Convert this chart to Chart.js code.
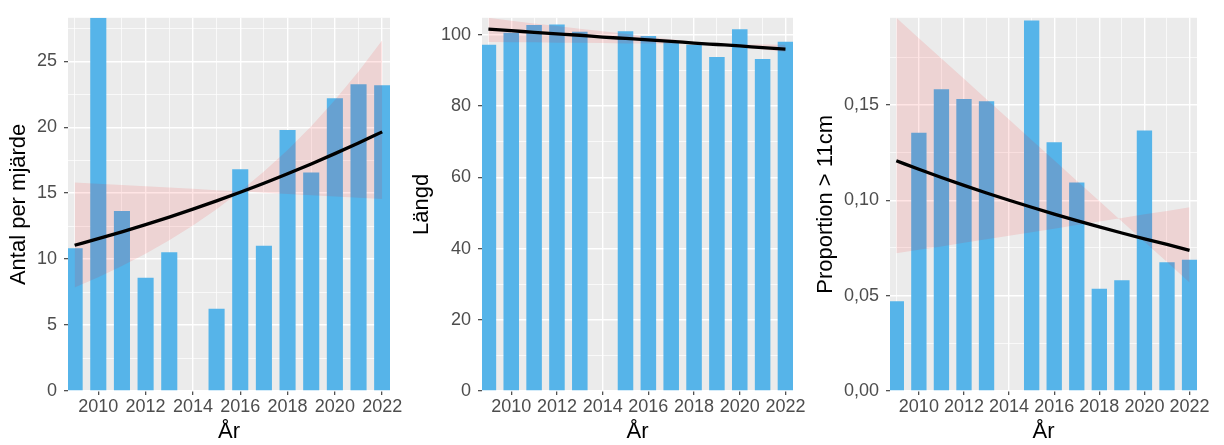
<!DOCTYPE html>
<html lang="sv">
<head>
<meta charset="utf-8">
<title>Mjärdfiske 2009–2022</title>
<script src="https://cdn.jsdelivr.net/npm/chart.js@4.4.1/dist/chart.umd.min.js"></script>
<style>
    html, body { margin: 0; padding: 0; background: #ffffff; }
    #wrap { position: relative; width: 1224px; height: 445px; overflow: hidden; }
    canvas { position: absolute; top: 0; }
</style>
</head>
<body>
<div id="wrap">
    <canvas id="antalChart" width="406" height="445" style="left:0px"></canvas>
    <canvas id="langdChart" width="406" height="445" style="left:406px"></canvas>
    <canvas id="propChart" width="412" height="445" style="left:812px"></canvas>
</div>

<script>
// ==============================================
// DATA
// ==============================================

const YEARS = [2009, 2010, 2011, 2012, 2013, 2014, 2015, 2016, 2017, 2018, 2019, 2020, 2021, 2022];
const X_TICK_YEARS = [2010, 2012, 2014, 2016, 2018, 2020, 2022];

// Antal per mjärde (2014 saknas)
const antalBars  = [10.82, 28.3, 13.65, 8.58, 10.52, null, 6.23, 16.82, 11.02, 19.8, 16.57, 22.2, 23.27, 23.19];
const antalTrend = [11.05, 11.55, 12.07, 12.62, 13.19, 13.79, 14.42, 15.07, 15.75, 16.47, 17.22, 18.0, 18.81, 19.65];
const antalBandA = [15.81, 15.71, 15.62, 15.52, 15.43, 15.33, 15.23, 15.14, 15.04, 14.94, 14.85, 14.75, 14.66, 14.56];
const antalBandB = [7.85, 8.62, 9.47, 10.4, 11.43, 12.55, 13.79, 15.15, 16.64, 18.28, 20.08, 22.06, 24.23, 26.6];
const antalTicks = [0, 5, 10, 15, 20, 25];

// Längd
const langdBars  = [97.2, 100.6, 102.8, 102.9, 100.9, null, 101.0, 99.7, 97.9, 97.2, 93.8, 101.6, 93.2, 98.1];
const langdTrend = [101.6, 101.2, 100.7, 100.3, 99.9, 99.4, 99.0, 98.6, 98.2, 97.7, 97.3, 96.9, 96.4, 96.0];
const langdBandA = [104.8, 104.0, 103.2, 102.5, 101.7, 101.0, 100.3, 99.5, 98.8, 98.1, 97.4, 96.6, 95.9, 95.2];
const langdBandB = [98.0, 97.9, 97.9, 97.8, 97.8, 97.7, 97.6, 97.6, 97.5, 97.5, 97.4, 97.3, 97.3, 97.2];
const langdTicks = [0, 20, 40, 60, 80, 100];

// Proportion > 11cm
const propBars  = [0.047, 0.1354, 0.1582, 0.1531, 0.1519, null, 0.1942, 0.1304, 0.1093, 0.0536, 0.0581, 0.1365, 0.0675, 0.0688];
const propTrend = [0.1207, 0.1162, 0.1119, 0.1078, 0.1038, 0.1, 0.0963, 0.0927, 0.0893, 0.086, 0.0828, 0.0797, 0.0768, 0.0737];
const propBandA = [0.1956, 0.1849, 0.1743, 0.1636, 0.1529, 0.1423, 0.1316, 0.1209, 0.1102, 0.0996, 0.0889, 0.0782, 0.0676, 0.0569];
const propBandB = [0.0722, 0.074, 0.0758, 0.0777, 0.0795, 0.0814, 0.0832, 0.0851, 0.087, 0.0888, 0.0907, 0.0926, 0.0944, 0.0963];
const propTicks = [0, 0.05, 0.1, 0.15];

// ==============================================
// STIL
// ==============================================

const FONT = '"Liberation Sans", Arial, sans-serif';
const BAR_COLOR = '#56B4E9';
const BAND_COLOR = 'rgba(255, 0, 0, 0.1)';
const PANEL_BG = '#EBEBEB';
const X_MIN = 2008.72;
const X_MAX = 2022.33;

// grå panelbakgrund bakom rutnätet
const panelBackground = {
    id: 'panelBackground',
    beforeDraw(chart) {
        const { ctx, chartArea: a } = chart;
        ctx.save();
        ctx.fillStyle = PANEL_BG;
        ctx.fillRect(a.left, a.top, a.right - a.left, a.bottom - a.top);
        ctx.restore();
    }
};

function toPoints(values) {
    return YEARS.map((year, i) => ({ x: year, y: values[i] }));
}

function formatSv(value, decimals) {
    return value.toFixed(decimals).replace('.', ',');
}

// ==============================================
// EN PANEL: staplar + band + trendlinje
// ==============================================

function renderPanel(canvasId, cfg) {
    const ctx = document.getElementById(canvasId).getContext('2d');

    new Chart(ctx, {
        type: 'bar',
        plugins: [panelBackground],
        data: {
            datasets: [
                {
                    type: 'bar',
                    data: toPoints(cfg.bars),
                    backgroundColor: BAR_COLOR,
                    borderWidth: 0,
                    barPercentage: 0.68,
                    categoryPercentage: 1,
                    clip: 0,
                    order: 3
                },
                {
                    type: 'line',
                    data: toPoints(cfg.bandA),
                    borderWidth: 0,
                    pointRadius: 0,
                    backgroundColor: BAND_COLOR,
                    fill: '+1',
                    clip: 0,
                    order: 2
                },
                {
                    type: 'line',
                    data: toPoints(cfg.bandB),
                    borderWidth: 0,
                    pointRadius: 0,
                    fill: false,
                    clip: 0,
                    order: 2
                },
                {
                    type: 'line',
                    data: toPoints(cfg.trend),
                    borderColor: '#000000',
                    borderWidth: 3.3,
                    pointRadius: 0,
                    fill: false,
                    cubicInterpolationMode: 'monotone',
                    clip: 0,
                    order: 1
                }
            ]
        },
        options: {
            responsive: false,
            animation: false,
            layout: { padding: { top: 15, right: cfg.padRight, bottom: 0, left: 0 } },
            plugins: {
                legend: { display: false },
                tooltip: { enabled: false }
            },
            scales: {
                x: {
                    type: 'linear',
                    min: X_MIN,
                    max: X_MAX,
                    offset: false,
                    afterFit: scale => { scale.height = 54; },
                    border: { display: false },
                    grid: {
                        offset: false,
                        color: '#ffffff',
                        lineWidth: c => X_TICK_YEARS.includes(c.tick.value) ? 1.4 : 0.7,
                        tickLength: 4,
                        tickWidth: 1.1,
                        tickColor: c => X_TICK_YEARS.includes(c.tick.value) ? '#333333' : 'rgba(0,0,0,0)'
                    },
                    ticks: {
                        stepSize: 1,
                        includeBounds: false,
                        autoSkip: false,
                        maxRotation: 0,
                        padding: 1,
                        color: '#4D4D4D',
                        font: { family: FONT, size: 18 },
                        callback: v => X_TICK_YEARS.includes(v) ? String(v) : ''
                    },
                    title: {
                        display: true,
                        text: 'År',
                        color: '#000000',
                        font: { family: FONT, size: 22 },
                        padding: { top: 0, bottom: 0 }
                    }
                },
                y: {
                    min: 0,
                    max: cfg.yMax,
                    afterFit: scale => { scale.width = cfg.yWidth; },
                    border: { display: false },
                    grid: {
                        color: '#ffffff',
                        lineWidth: c => cfg.ticks.includes(c.tick.value) ? 1.4 : 0.7,
                        tickLength: 4,
                        tickWidth: 1.1,
                        tickColor: c => cfg.ticks.includes(c.tick.value) ? '#333333' : 'rgba(0,0,0,0)'
                    },
                    ticks: {
                        stepSize: cfg.step,
                        includeBounds: false,
                        autoSkip: false,
                        padding: 7,
                        color: '#4D4D4D',
                        font: { family: FONT, size: 18 },
                        callback: v => cfg.ticks.includes(v) ? formatSv(v, cfg.decimals) : ''
                    },
                    title: {
                        display: true,
                        text: cfg.title,
                        color: '#000000',
                        font: { family: FONT, size: 22 },
                        padding: { top: cfg.titlePad, bottom: 0 }
                    }
                }
            }
        }
    });
}

// ==============================================
// START
// ==============================================

document.addEventListener('DOMContentLoaded', () => {
    renderPanel('antalChart', {
        bars: antalBars, trend: antalTrend, bandA: antalBandA, bandB: antalBandB,
        ticks: antalTicks, step: 2.5, yMax: 28.3, decimals: 0,
        title: 'Antal per mjärde', yWidth: 68, padRight: 16, titlePad: 6
    });
    renderPanel('langdChart', {
        bars: langdBars, trend: langdTrend, bandA: langdBandA, bandB: langdBandB,
        ticks: langdTicks, step: 10, yMax: 104.8, decimals: 0,
        title: 'Längd', yWidth: 76, padRight: 19, titlePad: 3
    });
    renderPanel('propChart', {
        bars: propBars, trend: propTrend, bandA: propBandA, bandB: propBandB,
        ticks: propTicks, step: 0.025, yMax: 0.1956, decimals: 2,
        title: 'Proportion > 11cm', yWidth: 78, padRight: 27, titlePad: 1
    });
});
</script>
</body>
</html>
